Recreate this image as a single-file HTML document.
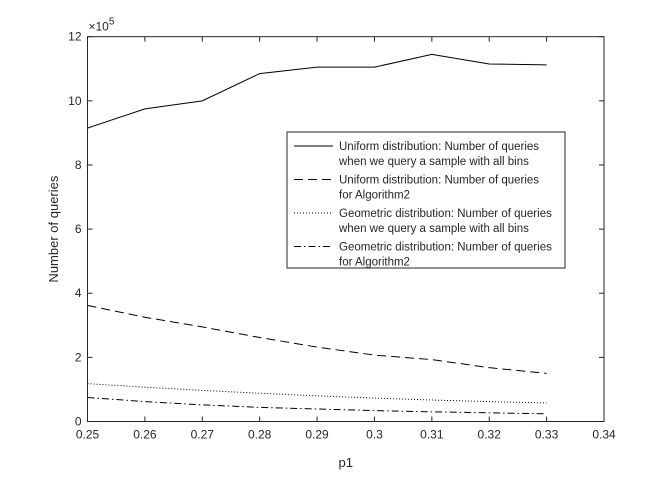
<!DOCTYPE html>
<html><head><meta charset="utf-8"><style>
body{margin:0;background:#fff;}
svg text{font-family:"Liberation Sans",sans-serif;fill:#262626;}
</style></head><body>
<svg id="c" width="672" height="478" xmlns="http://www.w3.org/2000/svg">
<rect width="672" height="478" fill="#fff"/>
<g id="g"></g>
</svg>
<script>
const xVals=[0.25,0.26,0.27,0.28,0.29,0.30,0.31,0.32,0.33];
const uniformAll=[9.15,9.75,10.0,10.85,11.05,11.05,11.45,11.15,11.12];
const uniformAlg2=[3.62,3.25,2.95,2.62,2.32,2.07,1.93,1.68,1.50];
const geomAll=[1.18,1.07,0.97,0.88,0.80,0.73,0.67,0.62,0.58];
const geomAlg2=[0.75,0.62,0.52,0.44,0.39,0.34,0.30,0.27,0.24];
const xTicks=["0.25","0.26","0.27","0.28","0.29","0.3","0.31","0.32","0.33","0.34"];
const yTicks=["0","2","4","6","8","10","12"];
const legendLabels=[["Uniform distribution: Number of queries","when we query a sample with all bins"],["Uniform distribution: Number of queries","for Algorithm2"],["Geometric distribution: Number of queries","when we query a sample with all bins"],["Geometric distribution: Number of queries","for Algorithm2"]];

const L=87.5,R=604,T=36.7,B=421.5;
const X=v=>L+(v-0.25)/(0.34-0.25)*(R-L);
const Y=v=>B-v/12*(B-T);
const g=document.getElementById('g');
const NS="http://www.w3.org/2000/svg";
function mk(t,a,p){const e=document.createElementNS(NS,t);for(const k in a)e.setAttribute(k,a[k]);(p||g).appendChild(e);return e;}

const ax=mk('rect',{x:L,y:T,width:R-L,height:B-T,fill:'none',stroke:'#262626','stroke-width':1});


xTicks.forEach(t=>{const x=X(parseFloat(t));
 mk('line',{x1:x,x2:x,y1:B,y2:B-5,stroke:'#262626'});mk('line',{x1:x,x2:x,y1:T,y2:T+5,stroke:'#262626'});
 const e=mk('text',{x:x,y:B+17,'text-anchor':'middle','font-size':12});e.textContent=t;
 
 });
yTicks.forEach(t=>{const y=Y(parseFloat(t));
 mk('line',{x1:L,x2:L+5,y1:y,y2:y,stroke:'#262626'});mk('line',{x1:R,x2:R-5,y1:y,y2:y,stroke:'#262626'});
 const e=mk('text',{x:L-6,y:y+4,'text-anchor':'end','font-size':12});e.textContent=t;
 
 });
const ex=mk('text',{x:L+1,y:T-6,'font-size':12});ex.innerHTML='×10<tspan dy="-6" font-size="10">5</tspan>';


const xl=mk('text',{x:(L+R)/2,y:467,'text-anchor':'middle','font-size':13});xl.textContent='p1';


const yl=mk('text',{x:0,y:0,'text-anchor':'middle','font-size':13,transform:`translate(58,${(T+B)/2}) rotate(-90)`});yl.textContent='Number of queries';



const series=[[uniformAll,'none','uniform-all-line'],[uniformAlg2,'9,5','uniform-alg2-line'],[geomAll,'1,2','geometric-all-line'],[geomAlg2,'7,3,1.5,3','geometric-alg2-line']];
series.forEach(s=>{const p=mk('polyline',{points:s[0].map((v,i)=>X(xVals[i])+','+Y(v)).join(' '),fill:'none',stroke:'#000','stroke-width':1,'stroke-dasharray':s[1]});
 
 });

const lg=mk('g',{});


mk('rect',{x:287,y:132,width:278,height:136,fill:'#fff',stroke:'#262626'},lg);
legendLabels.forEach((lab,i)=>{const y0=146+i*33.5;
 mk('line',{x1:294,x2:333,y1:y0,y2:y0,stroke:'#000','stroke-dasharray':series[i][1]},lg);
 const e=mk('text',{x:339,y:y0+4,'font-size':11.5},lg);
 e.innerHTML=`<tspan x="339">${lab[0]}</tspan><tspan x="339" dy="15">${lab[1]}</tspan>`;
 
 });
</script>
</body></html>
